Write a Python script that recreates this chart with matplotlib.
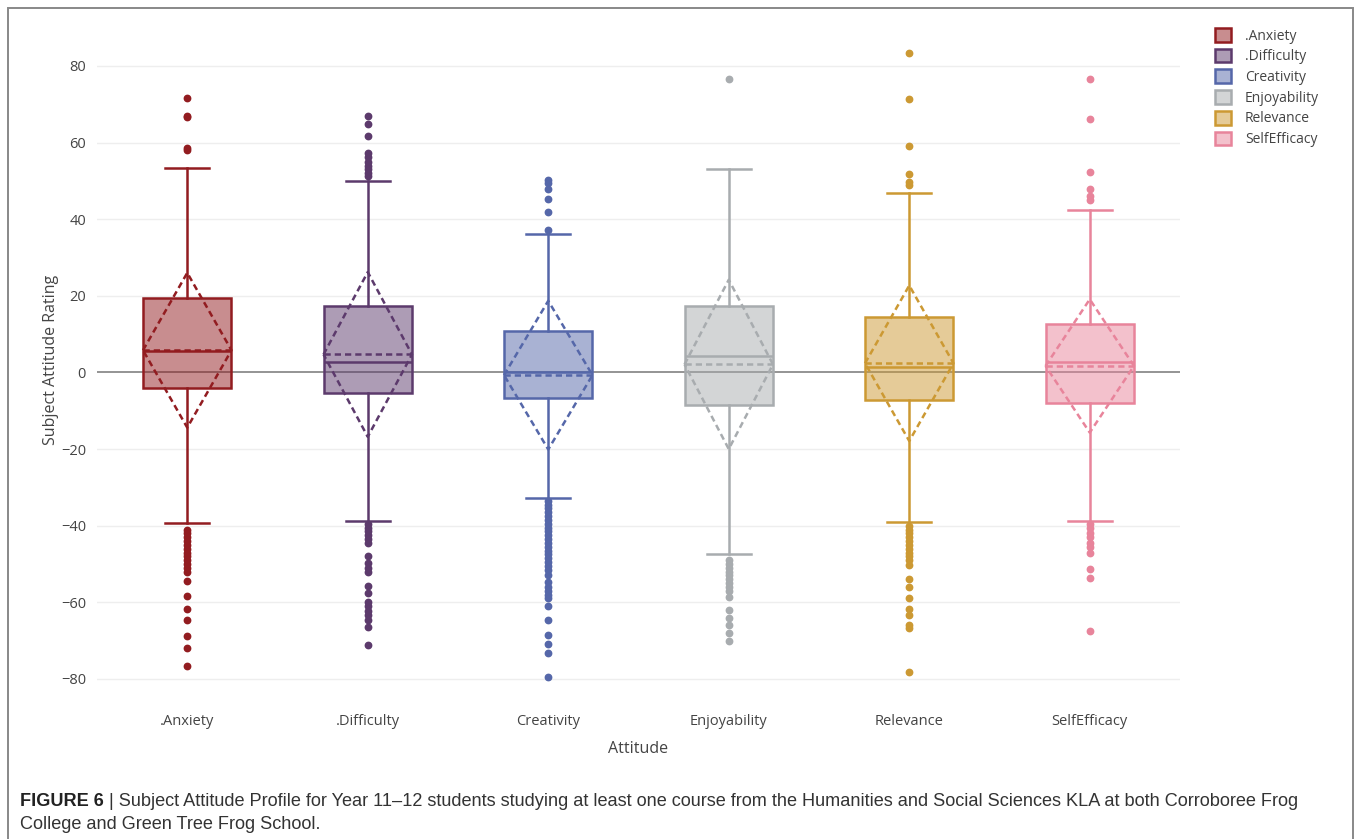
import matplotlib
matplotlib.use("Agg")
import matplotlib.pyplot as plt
import matplotlib.patches as mpatches
from matplotlib.colors import to_rgba
import numpy as np

# %% Data

CATEGORIES = [".Anxiety", ".Difficulty", "Creativity", "Enjoyability", "Relevance", "SelfEfficacy"]
COLORS = ["#921c20", "#5c3a6c", "#5567a9", "#a8acaf", "#cc9933", "#e8849b"]

Q1 = [-4.1, -5.4, -6.7, -8.5, -7.2, -8.0]
MEDIAN = [5.6, 2.6, 0.0, 4.3, 1.3, 2.8]
Q3 = [19.5, 17.4, 10.9, 17.4, 14.6, 12.7]
WHIS_LO = [-39.4, -38.9, -32.8, -47.4, -39.1, -38.9]
WHIS_HI = [53.3, 50.1, 36.1, 53.1, 46.9, 42.5]
MEAN = [5.8, 4.7, -0.7, 2.1, 2.4, 1.7]
SD = [20.2, 21.5, 19.4, 22.1, 20.3, 17.4]

OUTLIERS = [
    [71.6, 67.0, 66.6, 58.5, 58.0,
     -41, -42, -43, -44, -45, -46, -47, -48, -49, -50, -51, -52,
     -54.4, -58.4, -61.8, -64.6, -68.8, -71.8, -76.6],
    [67.0, 64.9, 61.6, 57.4, 56.2, 55.0, 54.0, 53.0, 52.0, 51.2,
     -39.5, -40.5, -41.5, -42.5, -43.5, -44.4, -47.8, -49.7, -51.0, -52.0,
     -55.7, -57.7, -59.8, -61.0, -62.2, -63.4, -64.6, -66.4, -71.1],
    [50.3, 49.4, 47.8, 45.4, 41.8, 37.2,
     -33.5, -34.5, -35.5, -36.5, -37.5, -38.5, -39.5, -40.5, -41.5, -42.5,
     -43.5, -44.5, -45.5, -46.5, -47.5, -48.5, -49.5, -50.5, -51.5, -52.9,
     -54.6, -55.9, -57.0, -58.0, -59.0, -61.0, -64.6, -68.5, -70.9, -73.3, -79.4],
    [76.5,
     -49.0, -50.0, -51.0, -52.0, -53.0, -54.0, -55.0, -56.0, -57.0, -58.5,
     -62.0, -64.2, -65.9, -68.1, -70.1],
    [83.3, 71.5, 59.2, 51.8, 49.8, 48.8,
     -40, -41, -42, -43, -44, -45, -46, -47, -48, -49, -50.3,
     -54.0, -55.9, -59.0, -61.8, -63.3, -66.0, -66.7, -78.3],
    [76.6, 66.2, 52.3, 47.8, 46.1, 44.9,
     -39.6, -40.5, -42.0, -43.0, -44.6, -45.5, -47.0, -51.4, -53.6, -67.4],
]

YTICKS = [-80, -60, -40, -20, 0, 20, 40, 60, 80]

CAPTION_BOLD = "FIGURE 6"
CAPTION_1 = (" | Subject Attitude Profile for Year 11\u201312 students studying at least one course "
             "from the Humanities and Social Sciences KLA at both Corroboree Frog")
CAPTION_2 = "College and Green Tree Frog School."

# %% Figure

W, H = 1357, 839
fig = plt.figure(figsize=(W / 100, H / 100), dpi=100)
ax = fig.add_axes([97 / W, 1 - 700 / H, (1180 - 97) / W, (700 - 20) / H])

TICK_FONT = ["Open Sans", "DejaVu Sans"]
TEXT_COLOR = "#444444"

positions = np.arange(len(CATEGORIES))
BOX_W = 0.49

for i, c in enumerate(CATEGORIES):
    color = COLORS[i]
    stats = [dict(
        med=MEDIAN[i], q1=Q1[i], q3=Q3[i],
        whislo=WHIS_LO[i], whishi=WHIS_HI[i],
        fliers=OUTLIERS[i], label=c,
    )]
    ax.bxp(
        stats,
        positions=[i],
        widths=BOX_W,
        capwidths=BOX_W / 2,
        patch_artist=True,
        boxprops=dict(facecolor=to_rgba(color, 0.5), edgecolor=color, linewidth=1.8),
        medianprops=dict(color=color, linewidth=1.8),
        whiskerprops=dict(color=color, linewidth=1.8),
        capprops=dict(color=color, linewidth=1.8),
        flierprops=dict(marker="o", markersize=4.6, markerfacecolor=color,
                        markeredgecolor=color, linestyle="none"),
        zorder=3,
    )
    # mean line and mean +/- SD diamond
    m, s, hw = MEAN[i], SD[i], BOX_W / 2
    ax.plot([i - hw, i + hw], [m, m], color=color, lw=1.8, ls=(0, (2.5, 1.6)), zorder=4)
    ax.plot([i - hw, i, i + hw, i, i - hw], [m, m + s, m, m - s, m],
            color=color, lw=1.8, ls=(0, (2.5, 1.6)), zorder=4)

ax.axhline(0, color="#777777", lw=1.1, zorder=2)
for y in YTICKS:
    if y != 0:
        ax.axhline(y, color="#eeeeee", lw=1.0, zorder=0)

ax.set_xlim(-0.5, 5.5)
ax.set_ylim(-85.5, 92)
ax.set_yticks(YTICKS, labels=[f"{y}".replace("-", "\u2212") for y in YTICKS])
ax.set_xticks(positions, labels=CATEGORIES)
ax.tick_params(length=0, labelsize=10.5, colors=TEXT_COLOR)
ax.tick_params(axis="y", pad=8)
ax.tick_params(axis="x", pad=10)
for lab in ax.get_xticklabels() + ax.get_yticklabels():
    lab.set_family(TICK_FONT)
ax.spines[["top", "right", "bottom", "left"]].set_visible(False)

ax.set_xlabel("Attitude", fontsize=11.5, color=TEXT_COLOR, family=TICK_FONT, labelpad=9)
ax.set_ylabel("Subject Attitude Rating", fontsize=11.5, color=TEXT_COLOR, family=TICK_FONT, labelpad=1)

handles = [
    mpatches.Patch(facecolor=to_rgba(col, 0.5), edgecolor=col, linewidth=1.8, label=c)
    for c, col in zip(CATEGORIES, COLORS)
]
fig.legend(
    handles=handles,
    loc="upper left",
    bbox_to_anchor=(1208 / W, 1 - 21 / H),
    frameon=False,
    prop=dict(family=TICK_FONT, size=10),
    labelcolor=TEXT_COLOR,
    handlelength=1.15,
    handleheight=1.15,
    handletextpad=1.0,
    labelspacing=0.37,
    borderpad=0,
)

# outer frame
fig.add_artist(mpatches.Rectangle(
    (8 / W, -0.05), (1353 - 8) / W, 1.05 - 8 / H,
    transform=fig.transFigure, fill=False, edgecolor="#888888", lw=1.4,
))

# caption
CAP_FONT = ["Liberation Sans", "DejaVu Sans"]
CAP_SIZE = 13.05
t1 = fig.text(20 / W, 1 - 806 / H, CAPTION_BOLD, fontsize=CAP_SIZE, fontweight="bold",
              family=CAP_FONT, color="#222222", va="baseline")
ax.annotate(CAPTION_1, xy=(1, 0), xycoords=t1, va="bottom", ha="left",
            fontsize=CAP_SIZE, family=CAP_FONT, color="#333333", annotation_clip=False)
fig.text(20 / W, 1 - 829 / H, CAPTION_2, fontsize=CAP_SIZE,
         family=CAP_FONT, color="#333333", va="baseline")

fig.savefig("out.png", dpi=100)
